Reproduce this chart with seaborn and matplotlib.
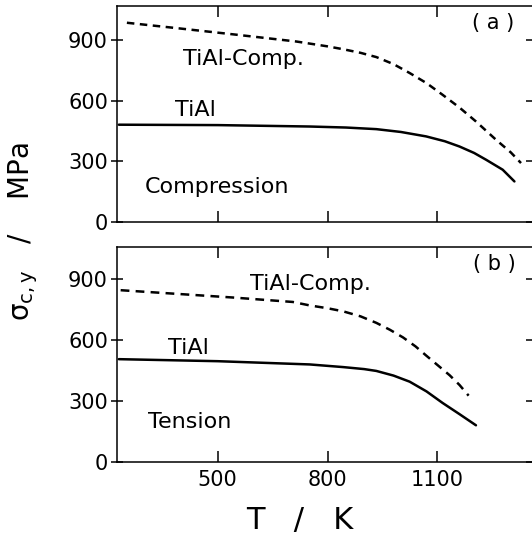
import numpy as np
import pandas as pd
import matplotlib
matplotlib.use('Agg')
import matplotlib.pyplot as plt
import seaborn as sns

# Data (T in K, stress in MPa)
# (a) compression
T_a_comp = [252, 400, 550, 715, 800, 842, 890, 933, 980, 1024, 1070, 1114, 1160, 1205, 1260, 1300, 1328]
s_a_comp = [987, 958, 928, 894, 870, 856, 838, 817, 782, 738, 688, 630, 567, 498, 407, 345, 292]
T_a_tial = [230, 500, 751, 850, 933, 1000, 1069, 1120, 1160, 1200, 1233, 1278, 1310]
s_a_tial = [482, 480, 473, 468, 460, 446, 424, 400, 374, 342, 308, 259, 201]

# (b) tension
T_b_comp = [235, 541, 705, 751, 800, 842, 890, 933, 970, 1006, 1040, 1069, 1100, 1133, 1160, 1185]
s_b_comp = [847, 811, 789, 772, 758, 743, 718, 686, 652, 614, 570, 525, 478, 428, 380, 327]
T_b_tial = [230, 500, 751, 842, 900, 933, 980, 1024, 1070, 1114, 1160, 1205]
s_b_tial = [507, 497, 481, 468, 458, 449, 426, 396, 348, 291, 236, 181]

x_ticks = [500, 800, 1100]
y_ticks = [0, 300, 600, 900]

sns.set_style('ticks')
plt.rcParams['font.family'] = ['DejaVu Sans']
plt.rcParams['text.color'] = 'black'
plt.rcParams['axes.edgecolor'] = 'black'
plt.rcParams['xtick.color'] = 'black'
plt.rcParams['ytick.color'] = 'black'
plt.rcParams['mathtext.default'] = 'regular'

fig = plt.figure(figsize=(5.32, 5.35), dpi=100)
ax_a = fig.add_axes([117/532, 1-222/535, (532-117)/532, 216/535])
ax_b = fig.add_axes([117/532, 1-462/535, (532-117)/532, 215/535])


def draw_panel(ax, T_comp, s_comp, T_tial, s_tial, dash):
    # dashed: TiAl-Comp., solid: TiAl
    sns.lineplot(x=T_comp, y=s_comp, ax=ax, color='black', lw=1.8,
                 sort=False, estimator=None)
    ax.lines[-1].set_dashes(dash)
    sns.lineplot(x=T_tial, y=s_tial, ax=ax, color='black', lw=1.8,
                 sort=False, estimator=None)
    ax.set_xlim(225, 1358)
    ax.set_xticks(x_ticks)
    ax.set_yticks(y_ticks)
    ax.tick_params(axis='x', direction='in', top=True, length=8, width=1.1,
                   labelsize=15, pad=6)
    ax.tick_params(axis='y', direction='inout', right=True, length=9,
                   width=1.1, labelsize=15, pad=2)
    for s in ['left', 'bottom', 'top']:
        ax.spines[s].set_linewidth(1.1)
    ax.spines['right'].set_visible(False)
    ax.set_xlabel('')
    ax.set_ylabel('')


draw_panel(ax_a, T_a_comp, s_a_comp, T_a_tial, s_a_tial, (3, 2.2))
ax_a.set_ylim(0, 1070)
ax_a.tick_params(axis='x', labelbottom=False)
ax_a.text(405, 808, 'TiAl-Comp.', fontsize=16, va='center')
ax_a.text(383, 556, 'TiAl', fontsize=16, va='center')
ax_a.text(301, 175, 'Compression', fontsize=16, va='center')
ax_a.text(1253, 987, '( a )', fontsize=15, va='center', ha='center')

draw_panel(ax_b, T_b_comp, s_b_comp, T_b_tial, s_b_tial, (3.5, 2.5))
ax_b.set_ylim(0, 1060)
ax_b.text(587, 876, 'TiAl-Comp.', fontsize=16, va='center')
ax_b.text(364, 561, 'TiAl', fontsize=16, va='center')
ax_b.text(309, 198, 'Tension', fontsize=16, va='center')
ax_b.text(1255, 977, '( b )', fontsize=15, va='center', ha='center')

# axis labels
fig.text(0.044, 1-231/535, 'σ$_{c,y}$   /    MPa', rotation=90,
         fontsize=20, ha='center', va='center')
fig.text(300/532, 1-520/535, 'T   /   K', fontsize=22, ha='center', va='center')

plt.savefig('out.png', dpi=100)
